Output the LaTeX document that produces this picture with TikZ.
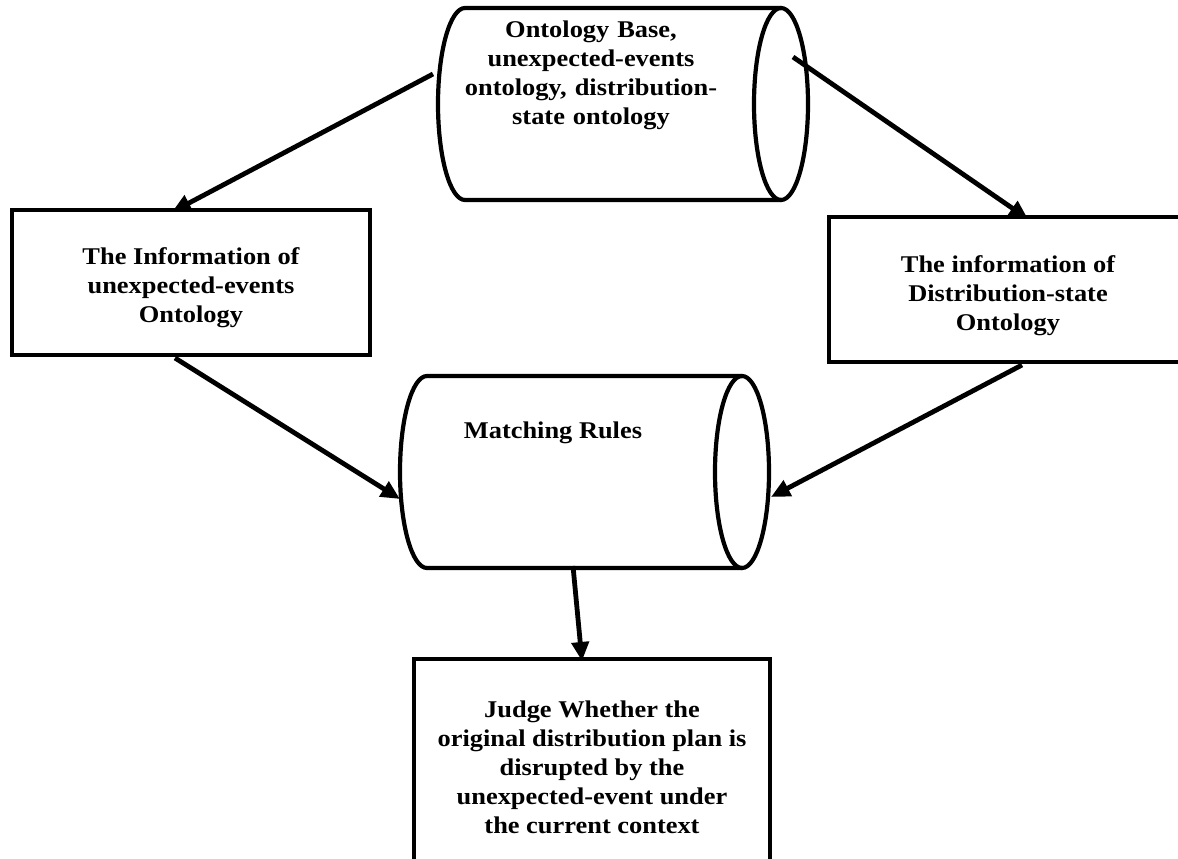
\documentclass[tikz,border=0pt]{standalone}
\usepackage{fontspec}
\setmainfont{Liberation Serif}[FakeStretch=1.1]
\usetikzlibrary{arrows.meta}
\begin{document}
\begin{tikzpicture}[x=1pt,y=1pt,
  shapeline/.style={line width=4.2pt},
  txt/.style={font=\bfseries\fontsize{24}{29}\selectfont, align=center, inner sep=0pt},
  arr/.style={line width=4.8pt, -{Triangle[length=19pt,width=17pt]}},
  box/.style={draw, line width=4.2pt, rectangle, inner sep=0pt, outer sep=0pt}]
\useasboundingbox (0,0) rectangle (1178,-859);
\clip (0,0) rectangle (1178,-859);

% top cylinder
\draw[shapeline] (781,-8) -- (465,-8) arc[start angle=90,end angle=270,x radius=27,y radius=96] -- (781,-200);
\draw[shapeline] (781,-104) ellipse[x radius=27,y radius=96];
\node[txt, text width=300pt, anchor=north] (ob) at (591,-21) {Ontology Base,\\ unexpected-events\\ ontology, distribution-\\ state ontology};

% middle cylinder
\draw[shapeline] (742,-376) -- (427,-376) arc[start angle=90,end angle=270,x radius=27,y radius=96] -- (742,-568);
\draw[shapeline] (742,-472) ellipse[x radius=27,y radius=96];
\node[txt, anchor=base] (mr) at (553,-438) {Matching Rules};

% left box
\node[box, minimum width=358pt, minimum height=145pt] (ub) at (191,-282.5) {};
\node[txt] (ut) at (191,-288) {The Information of\\ unexpected-events\\ Ontology};

% right box
\node[box, minimum width=361pt, minimum height=145pt] (rb) at (1009.5,-289.5) {};
\node[txt] (rt) at (1008,-296) {The information of\\ Distribution-state\\ Ontology};

% bottom box
\node[box, minimum width=356pt, minimum height=260pt, anchor=north] (jb) at (592,-659) {};
\node[txt] (jt) at (592,-767) {Judge Whether the\\ original distribution plan is\\ disrupted by the\\ unexpected-event under\\ the current context};

% attachment points on cylinders
\coordinate (obL) at (433,-74);
\coordinate (obR) at (793,-57);
\coordinate (mrL) at (400,-499);
\coordinate (mrR) at (771,-497);
\coordinate (mrB) at (573,-566);

% connectors
\draw[arr] (obL) -- ([xshift=160pt,yshift=-2pt]ub.north west);
\draw[arr] (obR) -- ([xshift=199pt,yshift=-2pt]rb.north west);
\draw[arr] ([xshift=163pt,yshift=-3pt]ub.south west) -- (mrL);
\draw[arr] ([xshift=193pt,yshift=-3pt]rb.south west) -- (mrR);
\draw[arr] (mrB) -- ([xshift=-10pt,yshift=-2pt]jb.north);
\end{tikzpicture}
\end{document}
